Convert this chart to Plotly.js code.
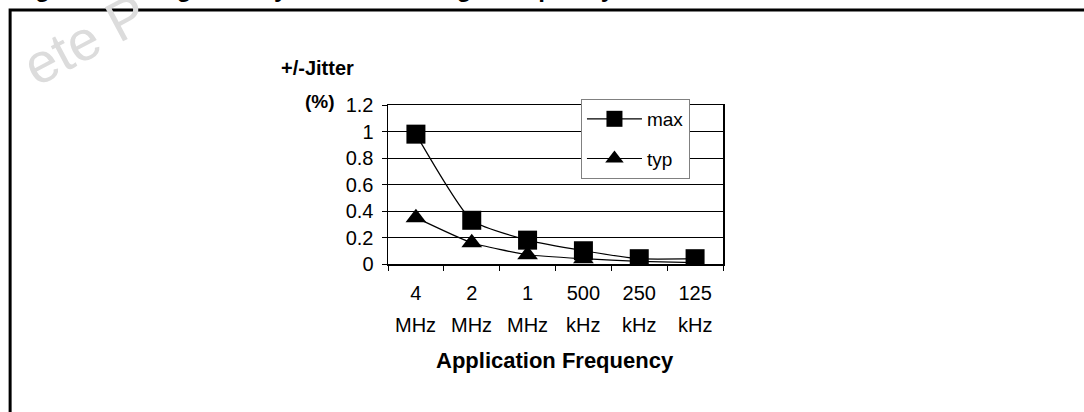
<!DOCTYPE html>
<html>
<head>
<meta charset="utf-8">
<script src="https://cdn.plot.ly/plotly-3.0.1.min.js"></script>
<style>html,body{margin:0;padding:0;background:#fff;}#chart{width:1084px;height:412px;}</style>
</head>
<body>
<div id="chart"></div>
<script>
// Data
var categories = ['4 MHz', '2 MHz', '1 MHz', '500 kHz', '250 kHz', '125 kHz'];
var numLabels = ['4', '2', '1', '500', '250', '125'];
var unitLabels = ['MHz', 'MHz', 'MHz', 'kHz', 'kHz', 'kHz'];
var maxJitter = [0.98, 0.33, 0.18, 0.10, 0.04, 0.04];
var typJitter = [0.35, 0.16, 0.07, 0.04, 0.02, 0.01];
var yTicks = [0, 0.2, 0.4, 0.6, 0.8, 1, 1.2];
var yTickText = ['0', '0.2', '0.4', '0.6', '0.8', '1', '1.2'];

var FONT = 'Liberation Sans, Arial, sans-serif';

var traces = [
  {
    x: categories, y: maxJitter, name: 'max', type: 'scatter', mode: 'lines+markers',
    line: {color: '#000', width: 1.2, shape: 'spline', smoothing: 0.5},
    marker: {symbol: 'square', size: 19, color: '#000'},
    legendgroup: 'a'
  },
  {
    x: categories, y: typJitter, name: 'typ', type: 'scatter', mode: 'lines+markers',
    line: {color: '#000', width: 1.2, shape: 'spline', smoothing: 0.5},
    marker: {symbol: 'triangle-up', size: 18, color: '#000'},
    legendgroup: 'b'
  }
];

var annotations = [];
annotations.push({x: -0.904, xref: 'paper', y: 1.409, yref: 'paper', xanchor: 'center', yanchor: 'middle',
  text: 'ete P', textangle: -28,
  showarrow: false, font: {family: FONT, size: 56, color: '#dcdcdc'}});
for (var i = 0; i < categories.length; i++) {
  annotations.push({x: categories[i], xref: 'x', y: -0.384, yref: 'paper',
    xanchor: 'center', yanchor: 'middle',
    text: unitLabels[i], showarrow: false, font: {family: FONT, size: 20, color: '#000'}});
}
annotations.push({x: -0.209, xref: 'paper', y: 1.233, yref: 'paper', xanchor: 'center', yanchor: 'middle',
  text: '<b>+/-Jitter</b>', showarrow: false, font: {family: FONT, size: 20, color: '#000'}});
annotations.push({x: -0.203, xref: 'paper', y: 1.025, yref: 'paper', xanchor: 'center', yanchor: 'middle',
  text: '<b>(%)</b>', showarrow: false, font: {family: FONT, size: 19, color: '#000'}});
annotations.push({x: 0.4985, xref: 'paper', y: -0.604, yref: 'paper', xanchor: 'center', yanchor: 'middle',
  text: '<b>Application Frequency</b>', showarrow: false, font: {family: FONT, size: 22, color: '#000'}});
annotations.push({x: -1.122, xref: 'paper', xanchor: 'left', y: 1.83, yref: 'paper', yanchor: 'top',
  text: '<b>Figure 16. Integrated Cycle Jitter vs. High Frequency</b>',
  showarrow: false, font: {family: FONT, size: 24, color: '#000'}});

var layout = {
  width: 1084, height: 412,
  margin: {l: 388, r: 361, t: 105, b: 148, pad: 0},
  paper_bgcolor: '#fff', plot_bgcolor: '#fff',
  font: {family: FONT, size: 20, color: '#000'},
  showlegend: true,
  legend: {
    x: 0.576, y: 1.038, xanchor: 'left', yanchor: 'top',
    bgcolor: '#fff', bordercolor: '#808080', borderwidth: 1,
    font: {family: FONT, size: 19, color: '#000'},
    traceorder: 'grouped', tracegroupgap: 12, itemwidth: 55
  },
  xaxis: {
    type: 'category', range: [-0.5, 5.5], fixedrange: true,
    tickmode: 'array', tickvals: categories, ticktext: numLabels,
    tickson: 'boundaries', ticks: 'outside', ticklen: 5, tickcolor: '#000',
    ticklabelstandoff: 10,
    showgrid: false, showline: true, mirror: true, linecolor: '#000', linewidth: 1.5,
    zeroline: false, tickfont: {family: FONT, size: 20, color: '#000'}
  },
  yaxis: {
    range: [0, 1.2], fixedrange: true,
    tickmode: 'array', tickvals: yTicks, ticktext: yTickText,
    ticks: 'outside', ticklen: 5, tickcolor: '#000', ticklabelstandoff: 4,
    showgrid: true, gridcolor: '#000', gridwidth: 1,
    showline: true, mirror: true, linecolor: '#000', linewidth: 1.5,
    zeroline: false, tickfont: {family: FONT, size: 20, color: '#000'}
  },
  shapes: [
    {type: 'path', xref: 'paper', yref: 'paper',
     path: 'M -1.128 -0.98 L -1.128 1.597 L 2.2 1.597',
     line: {color: '#000', width: 3}}
  ],
  annotations: annotations
};

Plotly.newPlot('chart', traces, layout, {displayModeBar: false, staticPlot: true});
</script>
</body>
</html>
